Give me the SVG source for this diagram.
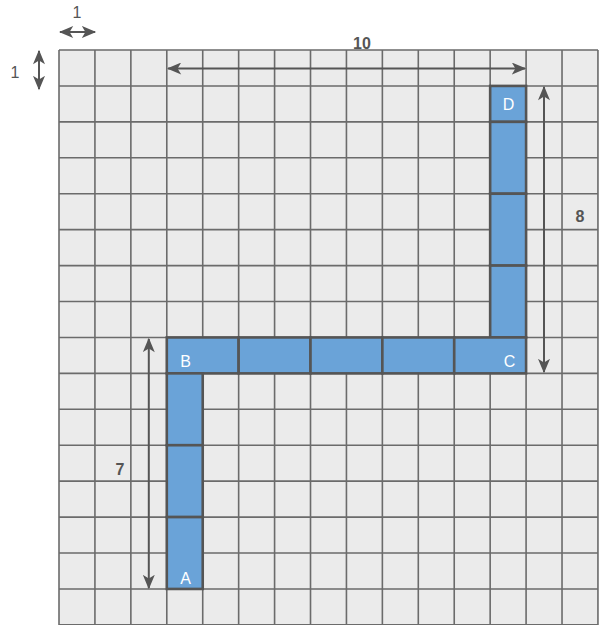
<svg xmlns="http://www.w3.org/2000/svg" width="599" height="625" viewBox="0 0 599 625">
<style>
.grid{stroke:#6b6b6b;stroke-width:1.6;fill:none}
.seg{fill:#6aa3d8;stroke:#555;stroke-width:2.6}
.lbl{font-family:"Liberation Sans",Arial,sans-serif;font-size:16px;fill:#fff;text-anchor:middle}
.dim{stroke:#555;stroke-width:2;fill:none}
.num{font-family:"Liberation Sans",Arial,sans-serif;font-size:16px;font-weight:bold;fill:#555;text-anchor:middle}
.one{font-family:"Liberation Sans",Arial,sans-serif;font-size:16px;fill:#555;text-anchor:middle}
</style>
<defs>
<marker id="ah" viewBox="0 0 12 10" refX="11" refY="5" markerWidth="7.5" markerHeight="6" orient="auto-start-reverse" markerUnits="strokeWidth">
<path d="M0,0 L12,5 L0,10 L3,5 z" fill="#555"/>
</marker>
</defs>
<rect x="0" y="0" width="599" height="625" fill="#fff"/>
<g id="grid">
<rect x="59" y="50" width="538.95" height="574.88" fill="#ebebeb"/>
<path class="grid" d="M59,50V625M94.93,50V625M130.86,50V625M166.79,50V625M202.72,50V625M238.65,50V625M274.58,50V625M310.51,50V625M346.44,50V625M382.37,50V625M418.3,50V625M454.23,50V625M490.16,50V625M526.09,50V625M562.02,50V625M597.95,50V625
M59,50H598M59,85.93H598M59,121.86H598M59,157.79H598M59,193.72H598M59,229.65H598M59,265.58H598M59,301.51H598M59,337.44H598M59,373.37H598M59,409.3H598M59,445.23H598M59,481.16H598M59,517.09H598M59,553.02H598M59,588.95H598M59,624.88H598"/>
</g>
<g id="node-D">
<rect class="seg" x="490.16" y="85.93" width="35.93" height="35.93"/>
<text class="lbl" x="508.6" y="110">D</text>
</g>
<g id="seg-D2"><rect class="seg" x="490.16" y="121.86" width="35.93" height="71.86"/></g>
<g id="seg-D3"><rect class="seg" x="490.16" y="193.72" width="35.93" height="71.86"/></g>
<g id="seg-D4"><rect class="seg" x="490.16" y="265.58" width="35.93" height="71.86"/></g>
<g id="node-B">
<rect class="seg" x="166.79" y="337.44" width="71.86" height="35.93"/>
<text class="lbl" x="185.5" y="367">B</text>
</g>
<g id="seg-BC1"><rect class="seg" x="238.65" y="337.44" width="71.86" height="35.93"/></g>
<g id="seg-BC2"><rect class="seg" x="310.51" y="337.44" width="71.86" height="35.93"/></g>
<g id="seg-BC3"><rect class="seg" x="382.37" y="337.44" width="71.86" height="35.93"/></g>
<g id="node-C">
<rect class="seg" x="454.23" y="337.44" width="71.86" height="35.93"/>
<text class="lbl" x="509.5" y="367">C</text>
</g>
<g id="seg-A1"><rect class="seg" x="166.79" y="373.37" width="35.93" height="71.86"/></g>
<g id="seg-A2"><rect class="seg" x="166.79" y="445.23" width="35.93" height="71.86"/></g>
<g id="node-A">
<rect class="seg" x="166.79" y="517.09" width="35.93" height="71.86"/>
<text class="lbl" x="185.5" y="584">A</text>
</g>
<g id="connectors">
<line class="dim" x1="168" y1="68.5" x2="525" y2="68.5" marker-start="url(#ah)" marker-end="url(#ah)"/>
<line class="dim" x1="544" y1="87" x2="544" y2="372" marker-start="url(#ah)" marker-end="url(#ah)"/>
<line class="dim" x1="148.8" y1="339" x2="148.8" y2="588" marker-start="url(#ah)" marker-end="url(#ah)"/>
<line class="dim" x1="60" y1="32" x2="95" y2="32" marker-start="url(#ah)" marker-end="url(#ah)"/>
<line class="dim" x1="39" y1="51" x2="39" y2="89" marker-start="url(#ah)" marker-end="url(#ah)"/>
</g>
<g id="labels">
<text class="num" x="362" y="49">10</text>
<text class="num" x="580" y="222">8</text>
<text class="num" x="120" y="475">7</text>
<text class="one" x="77" y="18">1</text>
<text class="one" x="15" y="78">1</text>
</g>
</svg>
